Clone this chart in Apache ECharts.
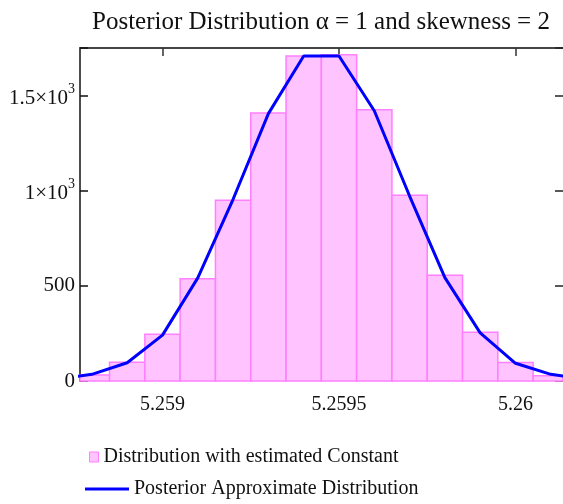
<!DOCTYPE html>
<html>
<head>
<meta charset="utf-8">
<script src="https://cdn.jsdelivr.net/npm/echarts@6/dist/echarts.min.js"></script>
<style>
  html, body { margin: 0; padding: 0; background: #fff; }
  #chart { width: 563px; height: 504px; }
</style>
</head>
<body>
<div id="chart"></div>
<script>
// histogram bins (centres) and counts
var binCentres = [5.2588, 5.2589, 5.2590, 5.2591, 5.2592, 5.2593, 5.2594,
                  5.2595, 5.2596, 5.2597, 5.2598, 5.2599, 5.2600, 5.2601];
var binCounts = [32, 99, 246, 537, 950, 1409, 1708,
                 1714, 1425, 976, 556, 256, 97, 28];
var binWidth = 0.0001;

// approximate posterior curve
var curveX = [5.2587, 5.2588, 5.2589, 5.2590, 5.2591, 5.2592, 5.2593, 5.2594,
              5.2595, 5.2596, 5.2597, 5.2598, 5.2599, 5.2600, 5.2601, 5.2602];
var curveY = [10, 35, 96, 241, 542, 955, 1405, 1708,
              1708, 1420, 972, 543, 253, 93, 35, 10];

var xTicks = [5.259, 5.2595, 5.26];
var yTickLabels = { 0: '0', 500: '500', 1000: '{b|1×10}{s|3}', 1500: '{b|1.5×10}{s|3}' };

var seriesNames = ['Distribution with estimated Constant', 'Posterior Approximate Distribution'];

var serif = 'Liberation Serif, Times New Roman, serif';
var xMin = 5.2587663, xMax = 5.2601346;

var chart = echarts.init(document.getElementById('chart'));

var histData = binCentres.map(function (c, i) { return [c, binCounts[i]]; });
var curveData = curveX.map(function (x, i) { return [x, curveY[i]]; });

chart.setOption({
  animation: false,
  title: {
    text: 'Posterior Distribution α = 1 and skewness = 2',
    left: 316,
    textAlign: 'center',
    top: 5,
    textStyle: { fontFamily: serif, fontSize: 25, fontWeight: 'normal', color: '#111' }
  },
  grid: { left: 80, right: 0, top: 48, bottom: 123 },
  legend: [{
    orient: 'vertical',
    left: 84,
    top: 442,
    itemWidth: 9,
    itemHeight: 10,
    data: [{ name: seriesNames[0], icon: 'rect',
             itemStyle: { color: '#ffc4ff', borderColor: '#ff7fff', borderWidth: 1 } }],
    textStyle: { fontFamily: serif, fontSize: 20, color: '#111' }
  }, {
    orient: 'vertical',
    left: 80,
    top: 474,
    itemWidth: 44,
    itemHeight: 3,
    data: [{ name: seriesNames[1], icon: 'rect', itemStyle: { color: '#0000ff' } }],
    textStyle: { fontFamily: serif, fontSize: 20, color: '#111' }
  }],
  xAxis: [{
    type: 'value',
    min: xMin,
    max: xMax,
    position: 'bottom',
    axisLine: { show: false, onZero: false },
    axisTick: { show: false },
    splitLine: { show: false },
    axisLabel: {
      customValues: xTicks,
      margin: 14,
      fontFamily: serif,
      fontSize: 20,
      color: '#111',
      formatter: function (v) { return String(+v.toFixed(4)); }
    }
  }, {
    type: 'value',
    min: xMin,
    max: xMax,
    position: 'top',
    axisLine: { show: true, onZero: false, lineStyle: { color: '#444', width: 2 } },
    axisTick: { show: true, inside: true, length: 8, customValues: xTicks,
                lineStyle: { color: '#333', width: 1.5 } },
    axisLabel: { show: false },
    splitLine: { show: false }
  }],
  yAxis: [{
    type: 'value',
    min: 0,
    max: 1750,
    interval: 500,
    axisLine: { show: true, onZero: false, lineStyle: { color: '#111', width: 1.5 } },
    axisTick: { show: true, inside: true, length: 8, lineStyle: { color: '#111', width: 1.5 } },
    splitLine: { show: false },
    axisLabel: {
      margin: 5,
      fontFamily: serif,
      fontSize: 21,
      color: '#111',
      formatter: function (v) { return yTickLabels[v] !== undefined ? yTickLabels[v] : ''; },
      rich: {
        b: { fontFamily: serif, fontSize: 21, color: '#111', verticalAlign: 'bottom', lineHeight: 26 },
        s: { fontFamily: serif, fontSize: 14, color: '#111', verticalAlign: 'top', lineHeight: 26 }
      }
    }
  }, {
    type: 'value',
    min: 0,
    max: 1750,
    interval: 500,
    position: 'right',
    axisLine: { show: false, onZero: false },
    axisTick: { show: true, inside: true, length: 8, lineStyle: { color: '#222', width: 1.5 } },
    axisLabel: { show: false },
    splitLine: { show: false }
  }],
  series: [{
    name: seriesNames[0],
    type: 'custom',
    xAxisIndex: 0,
    yAxisIndex: 0,
    itemStyle: { color: '#ffc4ff', borderColor: '#ff7fff' },
    renderItem: function (params, api) {
      var c = api.value(0), v = api.value(1);
      var p0 = api.coord([c - binWidth / 2, v]);
      var p1 = api.coord([c + binWidth / 2, 0]);
      var rect = echarts.graphic.clipRectByRect(
        { x: p0[0], y: p0[1], width: p1[0] - p0[0], height: p1[1] - p0[1] },
        { x: params.coordSys.x, y: params.coordSys.y,
          width: params.coordSys.width, height: params.coordSys.height });
      return rect && {
        type: 'rect',
        shape: rect,
        style: { fill: '#ffc4ff', stroke: '#ff7fff', lineWidth: 1.5 }
      };
    },
    data: histData,
    z: 1
  }, {
    name: seriesNames[1],
    type: 'line',
    xAxisIndex: 0,
    yAxisIndex: 0,
    symbol: 'none',
    clip: true,
    lineStyle: { color: '#0000ff', width: 3 },
    itemStyle: { color: '#0000ff' },
    data: curveData,
    z: 3
  }]
});
</script>
</body>
</html>
